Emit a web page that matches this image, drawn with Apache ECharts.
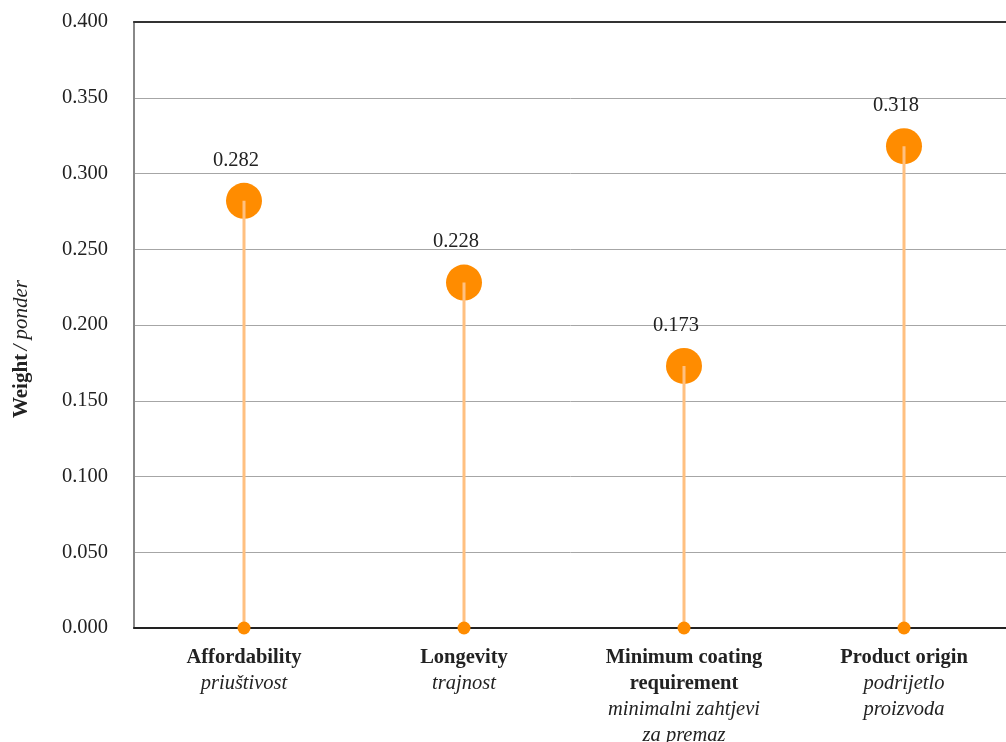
<!DOCTYPE html>
<html>
<head>
<meta charset="utf-8">
<script src="https://cdn.jsdelivr.net/npm/echarts@6/dist/echarts.min.js"></script>
<style>html,body{margin:0;padding:0;background:#fff;overflow:hidden;}#c{width:1006px;height:742px;}</style>
</head>
<body>
<div id="c"></div>
<script>
const categoriesEn = ['Affordability', 'Longevity', 'Minimum coating\nrequirement', 'Product origin'];
const categoriesHr = ['priuštivost', 'trajnost', 'minimalni zahtjevi\nza premaz', 'podrijetlo\nproizvoda'];
const weights = [0.282, 0.228, 0.173, 0.318];
const yTicks = [0, 0.05, 0.1, 0.15, 0.2, 0.25, 0.3, 0.35, 0.4];

const catKeys = categoriesEn.map((c, i) => 'c' + i);
const labelMap = {};
catKeys.forEach((k, i) => {
  const en = categoriesEn[i].split('\n').map(s => '{b|' + s + '}').join('\n');
  const hr = categoriesHr[i].split('\n').map(s => '{i|' + s + '}').join('\n');
  labelMap[k] = en + '\n' + hr;
});
const font = 'Liberation Serif';
const chart = echarts.init(document.getElementById('c'));
chart.setOption({
  animation: false,
  grid: { left: 134, top: 22, width: 880, height: 606, containLabel: false, outerBoundsMode: 'none' },
  xAxis: [{
    type: 'category', data: catKeys, position: 'bottom',
    axisLine: { lineStyle: { color: '#222', width: 2 } },
    axisTick: { show: false },
    axisLabel: {
      margin: 17, interval: 0,
      formatter: v => labelMap[v],
      rich: {
        b: { fontFamily: font, fontWeight: 'bold', fontSize: 20.5, color: '#222', lineHeight: 25.8 },
        i: { fontFamily: font, fontStyle: 'italic', fontSize: 20.5, color: '#222', lineHeight: 25.8 }
      }
    },
    splitLine: { show: false }
  }, {
    type: 'category', data: catKeys, position: 'top',
    axisLine: { lineStyle: { color: '#333', width: 2 } },
    axisTick: { show: false }, axisLabel: { show: false }
  }],
  yAxis: {
    type: 'value', min: 0, max: 0.4, interval: 0.05,
    name: '{b|Weight} {i|/ ponder}', nameLocation: 'middle', nameGap: 102, nameRotate: 90,
    nameTextStyle: {
      padding: [0, 48, 0, 0],
      rich: {
        b: { fontFamily: font, fontWeight: 'bold', fontSize: 21, color: '#222' },
        i: { fontFamily: font, fontStyle: 'italic', fontSize: 21, color: '#222' }
      }
    },
    axisLine: { show: true, lineStyle: { color: '#888', width: 2 } },
    axisTick: { show: false },
    axisLabel: { margin: 26, fontFamily: font, fontSize: 20.5, color: '#222',
      formatter: v => { const t = yTicks.find(x => Math.abs(x - v) < 1e-9); return (t !== undefined ? t : v).toFixed(3); } },
    splitLine: { lineStyle: { color: '#a6a6a6', width: 1 } }
  },
  series: [
    {
      type: 'scatter', data: weights, symbolSize: 36, z: 2,
      itemStyle: { color: '#FF8C00', opacity: 1 },
      label: { show: true, position: 'top', distance: 12, offset: [-8, 0], fontFamily: font, fontSize: 20.5, color: '#222',
        formatter: p => p.value.toFixed(3) }
    },
    {
      type: 'bar', data: weights, barWidth: 3, z: 3,
      itemStyle: { color: '#FFC080' }
    },
    {
      type: 'scatter', data: weights.map(() => 0), symbolSize: 13, z: 4,
      itemStyle: { color: '#FF8C00', opacity: 1 }
    }
  ]
});
</script>
</body>
</html>
